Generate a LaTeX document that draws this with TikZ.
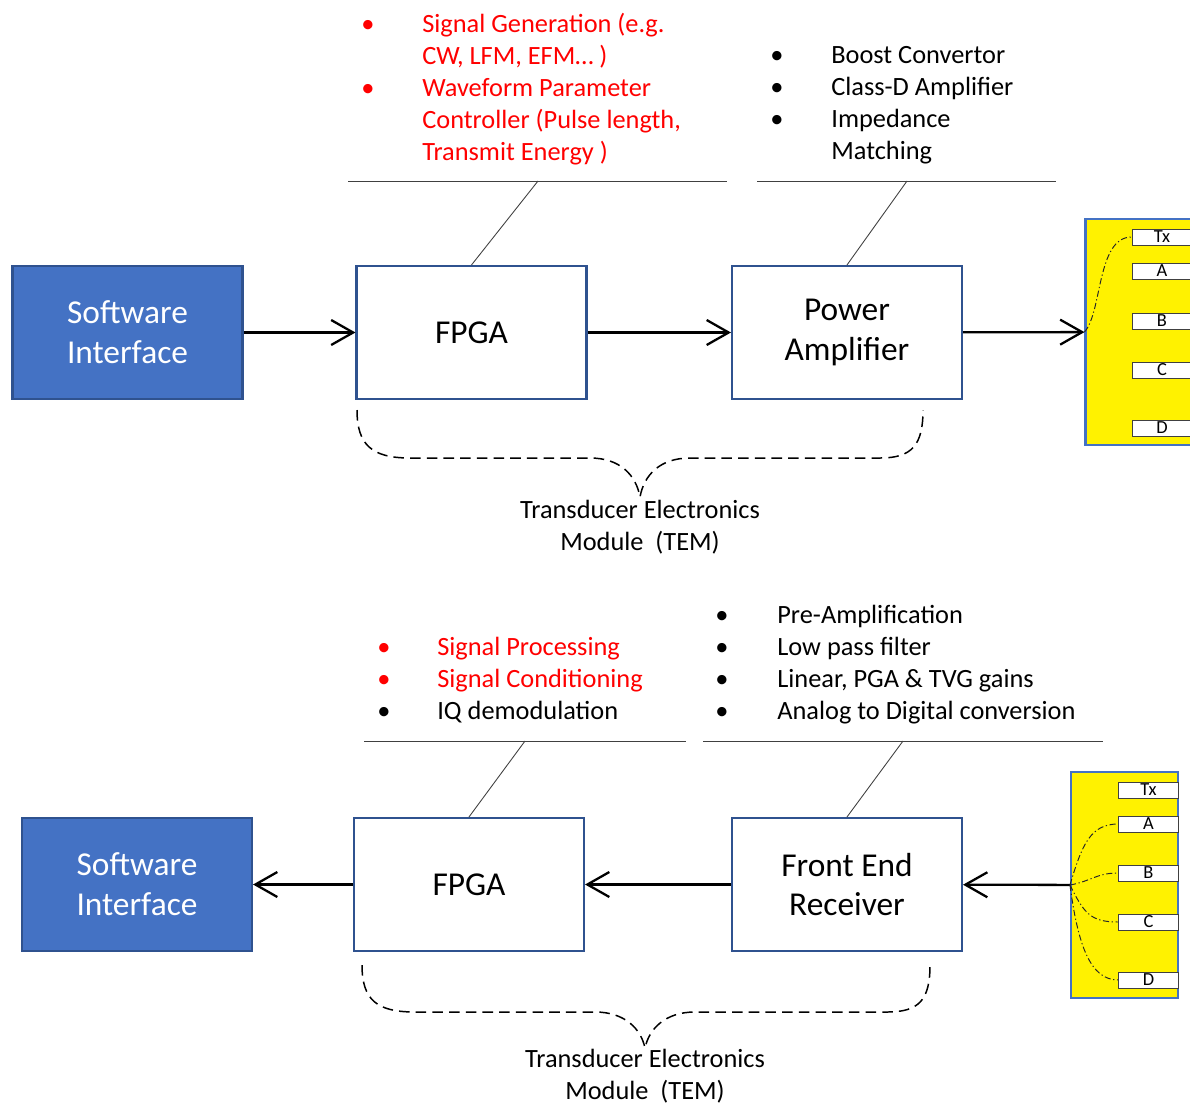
\documentclass[tikz,border=0pt]{standalone}
\usepackage{fontspec}
\setmainfont{Carlito}
\usetikzlibrary{arrows.meta,calc}
\definecolor{swblue}{HTML}{4472C4}
\definecolor{edgeblue}{HTML}{2F528F}

\begin{document}
\begin{tikzpicture}[x=0.02cm,y=-0.02cm]
    \tikzset{
      swbox/.style={draw=edgeblue, line width=1.2pt, rectangle, fill=swblue, text=white, minimum width=4.6cm, minimum height=2.66cm, align=center, font=\fontsize{19}{22.7}\selectfont},
      blk/.style={draw=edgeblue, line width=1.2pt, rectangle, fill=white, minimum width=4.6cm, minimum height=2.66cm, align=center, font=\fontsize{19}{22.7}\selectfont},
      tdcr/.style={draw=swblue, line width=1.2pt, fill=yellow, minimum width=2.14cm, minimum height=4.52cm},
      pin/.style={draw=black!75, line width=0.4pt, fill=white, minimum width=1.2cm, minimum height=0.32cm, inner sep=0pt, font=\fontsize{10.5}{10}\selectfont},
      line/.style={draw, line width=1.3pt, -{Straight Barb[length=0.44cm,width=0.5cm]}},
      callout/.style={draw=black!75, line width=0.5pt},
      brace/.style={draw, line width=0.85pt, dash pattern=on 6pt off 3.5pt},
      fan/.style={draw, line width=0.55pt, black!85, dash pattern=on 3.5pt off 1.5pt on 0.7pt off 1.5pt},
      item/.style={anchor=base west, inner sep=0pt, font=\fontsize{15}{18}\selectfont},
      dot/.style={anchor=base, inner sep=0pt, font=\fontsize{15}{18}\selectfont},
      tem/.style={anchor=north, inner sep=0pt, align=center, font=\fontsize{15}{18}\selectfont}
    }
    \useasboundingbox (0,0) rectangle (1190,1106);

    % transmit chain
    \node [swbox] (swtx) at (127.5,332.5) {Software\\Interface};
    \node [blk] (fpgatx) at (471.5,332.5) {FPGA};
    \node [blk] (pa) at (847,332.5) {Power\\Amplifier};
    \node [tdcr] (tdtx) at (1139,332) {};
    \foreach \p/\y in {Tx/237,A/271,B/321,C/370,D/428}
      \node [pin] (ptx\p) at (1162,\y) {\p};

    \path [line] (swtx) -- (fpgatx);
    \path [line] (fpgatx) -- (pa);
    \path [line] (pa) -- (tdtx);
    \draw [fan] (tdtx.west) .. controls +(18,-20) and +(-35,0) .. (ptxTx.west);

    % callouts (transmit)
    \coordinate (fpgatxcl) at (538,181);
    \coordinate (pacl) at (907,181);
    \draw [callout] (348,181) -- (727,181);
    \draw [callout] (fpgatxcl) -- (fpgatx.north);
    \draw [callout] (757,181) -- (1056,181);
    \draw [callout] (pacl) -- (pa.north);

    \foreach \t [count=\i] in {Signal Generation (e.g., {CW, LFM, EFM… )}, Waveform Parameter, {Controller (Pulse length,}, Transmit Energy )}
      \node [item, red] (gen\i) at (422,32*\i) {\t};
    \foreach \y in {32,96}
      \node [dot, red] (genb\y) at (368,\y) {\textbullet};
    \foreach \t [count=\i] in {Boost Convertor, Class-D Amplifier, Impedance, Matching}
      \node [item] (amp\i) at (831,31+32*\i) {\t};
    \foreach \y in {63,95,127}
      \node [dot] (ampb\y) at (777,\y) {\textbullet};

    \coordinate (temtx) at (640,497);
    \draw [brace] (357,410) .. controls (357,445) and (372,458) .. (410,458) -- (590,458)
      .. controls (620,458) and (636,475) .. (temtx)
      .. controls (644,475) and (660,458) .. (690,458) -- (880,458)
      .. controls (912,458) and (923,445) .. (923,410);
    \node [tem] (temtxlbl) at ($(temtx)+(0,3)$) {Transducer Electronics\\Module\ \ (TEM)};

    % receive chain
    \node [swbox] (swrx) at (137,884.5) {Software\\Interface};
    \node [blk] (fpgarx) at (469,884.5) {FPGA};
    \node [blk] (fer) at (847,884.5) {Front End\\Receiver};
    \node [tdcr] (tdrx) at (1124.5,885) {};
    \foreach \p/\y in {Tx/790,A/824,B/873,C/922,D/980}
      \node [pin] (prx\p) at (1148.5,\y) {\p};

    \path [line] (tdrx) -- (fer);
    \path [line] (fer) -- (fpgarx);
    \path [line] (fpgarx) -- (swrx);
    \draw [fan] (tdrx.west) .. controls +(12,-40) and +(-28,0) .. (prxA.west);
    \draw [fan] (tdrx.west) .. controls +(22,-4) and +(-22,0) .. (prxB.west);
    \draw [fan] (tdrx.west) .. controls +(14,28) and +(-28,0) .. (prxC.west);
    \draw [fan] (tdrx.west) .. controls +(8,60) and +(-28,0) .. (prxD.west);

    % callouts (receive)
    \coordinate (fpgarxcl) at (525,741);
    \coordinate (fercl) at (903,741);
    \draw [callout] (364,741) -- (686,741);
    \draw [callout] (fpgarxcl) -- (fpgarx.north);
    \draw [callout] (703,741) -- (1103,741);
    \draw [callout] (fercl) -- (fer.north);

    \foreach \c/\t [count=\i] in {red/Signal Processing, red/Signal Conditioning, black/IQ demodulation}{
      \node [item, text=\c] (proc\i) at (437,623+32*\i) {\t};
      \node [dot, text=\c] (procb\i) at (384,623+32*\i) {\textbullet};
    }
    \foreach \t [count=\i] in {Pre-Amplification, Low pass filter, {Linear, PGA \& TVG gains}, Analog to Digital conversion}{
      \node [item] (rcv\i) at (777,591+32*\i) {\t};
      \node [dot] (rcvb\i) at (722,591+32*\i) {\textbullet};
    }

    \coordinate (temrx) at (645,1048);
    \draw [brace] (362,965) .. controls (362,1000) and (377,1012) .. (415,1012) -- (595,1012)
      .. controls (625,1012) and (641,1029) .. (temrx)
      .. controls (649,1029) and (665,1012) .. (695,1012) -- (887,1012)
      .. controls (919,1012) and (930,1000) .. (930,965);
    \node [tem] (temrxlbl) at ($(temrx)+(0,1)$) {Transducer Electronics\\Module\ \ (TEM)};
\end{tikzpicture}
\end{document}
